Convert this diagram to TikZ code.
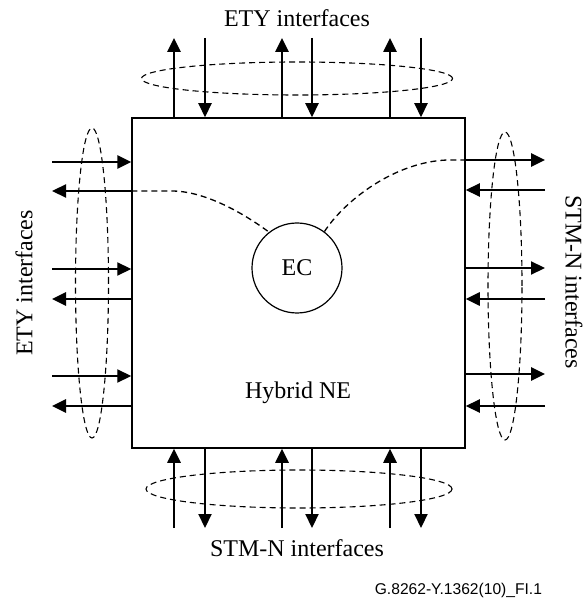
\documentclass[tikz,border=0pt]{standalone}
\usepackage{fontspec}
\setmainfont{Liberation Serif}
\newfontfamily\figfont{Liberation Sans}
\usetikzlibrary{shapes,arrows.meta}

\begin{document}
\begin{tikzpicture}[x=0.5pt, y=-0.5pt,
      box/.style={rectangle, draw, line width=0.75pt, minimum width=166.5pt, minimum height=165pt, inner sep=0pt},
      ecnode/.style={circle, draw, line width=0.6pt, minimum size=45pt, inner sep=0pt, font=\fontsize{12}{14}\selectfont},
      ring/.style={ellipse, draw, dash pattern=on 3pt off 2pt, line width=0.55pt, inner sep=0pt},
      heavy/.style={draw, -{Triangle[length=7pt,width=6.6pt]}, line width=1pt},
      light/.style={draw, -{Triangle[length=7pt,width=6.6pt]}, line width=0.65pt},
      link/.style={draw, dash pattern=on 3pt off 2pt, line width=0.65pt},
      caption/.style={font=\fontsize{12}{14}\selectfont}]
      \useasboundingbox (0,0) rectangle (586,603);

      % Nodes
      \node [box] (ne) at (298.5,283) {};
      \node [ecnode] (ec) at (297,268) {EC};
      \node [caption] (hybrid) at (298,393) {Hybrid NE};

      % Rings
      \node [ring, minimum width=155.5pt, minimum height=16.5pt] (topring) at (297,78.5) {};
      \node [ring, minimum width=153pt, minimum height=19pt] (botring) at (299,489) {};
      \node [ring, minimum width=16.5pt, minimum height=155pt] (leftring) at (92,283) {};
      \node [ring, minimum width=17pt, minimum height=154pt] (rightring) at (505,286) {};

      % Edges
      \foreach \x [count=\i] in {174,282,390} {
        \coordinate (tout\i) at (\x,38);
        \coordinate (bin\i) at (\x,528);
        \path [heavy] (ne.north -| tout\i) -- (tout\i);
        \path [heavy] (bin\i) -- (ne.south -| bin\i);
      }
      \foreach \x [count=\i] in {205,312,421} {
        \coordinate (tin\i) at (\x,38);
        \coordinate (bout\i) at (\x,528);
        \path [light] (tin\i) -- (ne.north -| tin\i);
        \path [light] (ne.south -| bout\i) -- (bout\i);
      }
      \foreach \y/\w [count=\i] in {162/heavy,269/light,376/light} {
        \coordinate (lin\i) at (52,\y);
        \path [\w] (lin\i) -- (ne.west |- lin\i);
      }
      \foreach \y/\w [count=\i] in {191/light,299/heavy,406/heavy} {
        \coordinate (lout\i) at (52,\y);
        \path [\w] (ne.west |- lout\i) -- (lout\i);
      }
      \foreach \y/\w [count=\i] in {160/heavy,268/light,374/heavy} {
        \coordinate (rout\i) at (545,\y);
        \path [\w] (ne.east |- rout\i) -- (rout\i);
      }
      \foreach \y/\w [count=\i] in {190/light,299/heavy,406/light} {
        \coordinate (rin\i) at (545,\y);
        \path [\w] (rin\i) -- (ne.east |- rin\i);
      }

      % EC links
      \path [link] (ne.west |- lout1) -- ++(41,0) .. controls +(27,0) and (235,207) .. (ec.128);
      \path [link] (ec.53) .. controls (345,200) and (395,162) .. (447,160) -- (ne.east |- rout1);

      % Annotations
      \node [caption] (toptitle) at (297,18) {ETY interfaces};
      \node [caption] (bottitle) at (297,548) {STM-N interfaces};
      \node [caption, rotate=90] (lefttitle) at (24,283) {ETY interfaces};
      \node [caption, rotate=-90] (righttitle) at (574,282) {STM-N interfaces};
      \node [font=\figfont\fontsize{7.8}{9}\selectfont, anchor=east] (figno) at (549,590) {G.8262-Y.1362(10)\_FI.1};

    \end{tikzpicture}
\end{document}
